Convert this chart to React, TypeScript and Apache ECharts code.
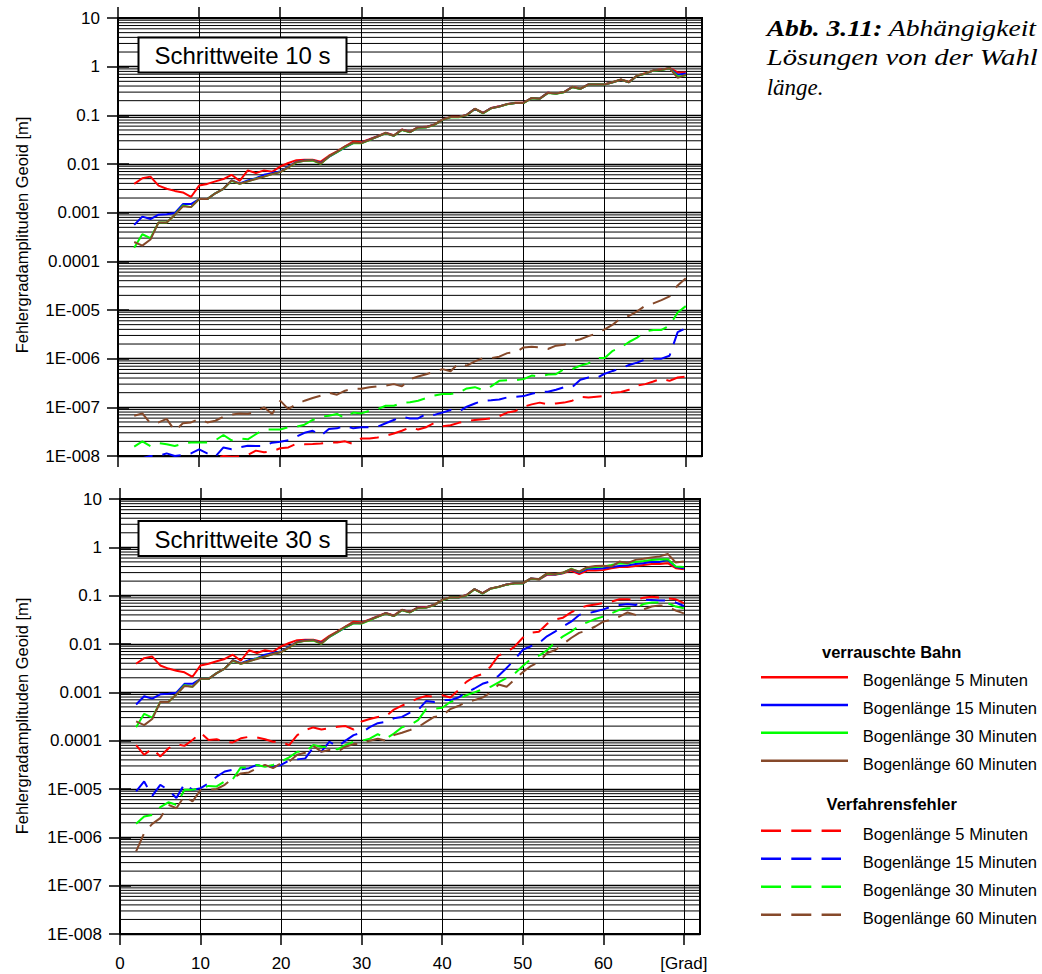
import React, { useEffect, useRef } from "react";
import * as echarts from "echarts";

// ---------- data ----------
const degrees = [
  2, 3, 4, 5, 6, 7, 8, 9, 10, 11, 12, 13, 14, 15, 16, 17, 18, 19, 20, 21,
  22, 23, 24, 25, 26, 27, 28, 29, 30, 31, 32, 33, 34, 35, 36, 37, 38, 39, 40, 41,
  42, 43, 44, 45, 46, 47, 48, 49, 50, 51, 52, 53, 54, 55, 56, 57, 58, 59, 60, 61,
  62, 63, 64, 65, 66, 67, 68, 69, 70,
];

const xTickValues = [0, 10, 20, 30, 40, 50, 60, 70];
const xTickLabels = ["0", "10", "20", "30", "40", "50", "60", "[Grad]"];
// exponent -8 .. 1
const yTickLabels = ["1E-008", "1E-007", "1E-006", "1E-005", "0.0001", "0.001", "0.01", "0.1", "1", "10"];

const seriesNames = ["Bogenlänge 5 Minuten", "Bogenlänge 15 Minuten", "Bogenlänge 30 Minuten", "Bogenlänge 60 Minuten"];
const panelTitles = ["Schrittweite 10 s", "Schrittweite 30 s"];
const legendHeaders = ["verrauschte Bahn", "Verfahrensfehler"];
const yAxisTitle = "Fehlergradamplituden Geoid [m]";
const captionLines = ["Abb. 3.11:", " Abhängigkeit", "Lösungen von der Wahl", "länge."];

// Schrittweite 10 s, verrauschte Bahn (solid)
const red10 = [
  0.0039, 0.0051, 0.0055, 0.0036, 0.0031, 0.0028, 0.0026, 0.0021, 0.0036, 0.0039,
  0.0044, 0.0049, 0.006, 0.0045, 0.0074, 0.0065, 0.0074, 0.0069, 0.0089, 0.0105,
  0.012, 0.0122, 0.0122, 0.0112, 0.0148, 0.0182, 0.023, 0.029, 0.028, 0.0322,
  0.0375, 0.044, 0.039, 0.051, 0.046, 0.057, 0.058, 0.065, 0.082, 0.093,
  0.093, 0.103, 0.137, 0.113, 0.141, 0.153, 0.171, 0.181, 0.182, 0.228,
  0.222, 0.292, 0.282, 0.302, 0.385, 0.355, 0.435, 0.436, 0.437, 0.485,
  0.545, 0.49, 0.66, 0.73, 0.84, 0.87, 0.94, 0.76, 0.76,
];
const blue10 = [
  0.00056, 0.00083, 0.00074, 0.00091, 0.00093, 0.00098, 0.0015, 0.0015, 0.0019, 0.0019,
  0.0025, 0.0031, 0.0046, 0.004, 0.0046, 0.0051, 0.006, 0.0065, 0.007, 0.0088,
  0.011, 0.0118, 0.012, 0.0105, 0.014, 0.0175, 0.022, 0.027, 0.027, 0.0315,
  0.0368, 0.0432, 0.038, 0.0506, 0.0454, 0.0564, 0.057, 0.064, 0.081, 0.092,
  0.092, 0.102, 0.136, 0.111, 0.14, 0.152, 0.17, 0.18, 0.18, 0.226,
  0.22, 0.29, 0.28, 0.3, 0.38, 0.35, 0.43, 0.43, 0.43, 0.48,
  0.54, 0.48, 0.65, 0.72, 0.83, 0.86, 0.93, 0.68, 0.72,
];
const green10 = [
  0.00019, 0.00036, 0.0003, 0.00063, 0.00063, 0.0009, 0.0014, 0.0013, 0.0019, 0.0019,
  0.0025, 0.0031, 0.0045, 0.0039, 0.0044, 0.005, 0.0055, 0.0062, 0.0068, 0.0085,
  0.0108, 0.0116, 0.0118, 0.0101, 0.0141, 0.0176, 0.0222, 0.0268, 0.0266, 0.031,
  0.0364, 0.0428, 0.0378, 0.05, 0.045, 0.0558, 0.0565, 0.0635, 0.0805, 0.0915,
  0.0915, 0.101, 0.135, 0.11, 0.139, 0.151, 0.169, 0.179, 0.179, 0.225,
  0.219, 0.288, 0.279, 0.298, 0.378, 0.348, 0.428, 0.428, 0.428, 0.478,
  0.538, 0.478, 0.648, 0.718, 0.828, 0.858, 0.925, 0.63, 0.66,
];
const brown10 = [
  0.00025, 0.00021, 0.00028, 0.00063, 0.00063, 0.0009, 0.00135, 0.0013, 0.0019, 0.0019,
  0.0025, 0.0031, 0.0046, 0.0039, 0.0044, 0.0049, 0.0055, 0.0062, 0.0068, 0.0085,
  0.011, 0.0117, 0.012, 0.0102, 0.0143, 0.018, 0.023, 0.0275, 0.027, 0.0315,
  0.0368, 0.0432, 0.038, 0.0506, 0.0454, 0.0564, 0.057, 0.064, 0.081, 0.092,
  0.092, 0.102, 0.136, 0.111, 0.14, 0.152, 0.17, 0.18, 0.18, 0.226,
  0.22, 0.29, 0.28, 0.3, 0.38, 0.35, 0.43, 0.43, 0.43, 0.48,
  0.54, 0.48, 0.65, 0.72, 0.83, 0.86, 0.93, 0.59, 0.68,
];

// Schrittweite 10 s, Verfahrensfehler (dashed)
const redDash10 = [
  7.5e-9, 7e-9, 7.2e-9, 6.8e-9, 7.5e-9, 8e-9, 7.8e-9, 8.2e-9, 8.5e-9, 8.8e-9,
  9e-9, 1.0e-8, 9.7e-9, 9.8e-9, 1.05e-8, 1.29e-8, 1.19e-8, 1.25e-8, 1.44e-8, 1.5e-8,
  1.8e-8, 1.74e-8, 1.76e-8, 1.8e-8, 1.88e-8, 1.9e-8, 2.0e-8, 1.76e-8, 2.3e-8, 2.3e-8,
  2.4e-8, 2.6e-8, 2.9e-8, 3.3e-8, 3.9e-8, 3.5e-8, 3.9e-8, 4.8e-8, 4.1e-8, 4.3e-8,
  4.8e-8, 5.2e-8, 5.5e-8, 5.7e-8, 5.9e-8, 6.6e-8, 7.8e-8, 8.4e-8, 1.03e-7, 1.15e-7,
  1.25e-7, 1.15e-7, 1.2e-7, 1.25e-7, 1.37e-7, 1.65e-7, 1.6e-7, 1.65e-7, 1.7e-7, 2.0e-7,
  2.07e-7, 2.3e-7, 2.8e-7, 3.0e-7, 3.4e-7, 3.9e-7, 3.5e-7, 4.1e-7, 4.3e-7,
];
const blueDash10 = [
  8e-9, 9e-9, 1.0e-8, 1.0e-8, 1.13e-8, 1.0e-8, 1.05e-8, 1.13e-8, 1.37e-8, 1.13e-8,
  9.7e-9, 1.5e-8, 1.37e-8, 1.5e-8, 1.63e-8, 1.6e-8, 1.6e-8, 1.88e-8, 1.97e-8, 2.1e-8,
  2.5e-8, 3.0e-8, 3.3e-8, 2.6e-8, 3.6e-8, 3.7e-8, 4.2e-8, 3.7e-8, 3.9e-8, 3.9e-8,
  4.0e-8, 4.7e-8, 5.5e-8, 6.4e-8, 5.9e-8, 5.9e-8, 7.3e-8, 7.0e-8, 7.8e-8, 8.8e-8,
  8.1e-8, 1.03e-7, 1.2e-7, 1.37e-7, 1.4e-7, 1.45e-7, 1.6e-7, 1.65e-7, 1.7e-7, 1.9e-7,
  2.07e-7, 2.1e-7, 2.3e-7, 2.6e-7, 2.6e-7, 3.7e-7, 4.1e-7, 4.0e-7, 4.9e-7, 5.6e-7,
  6.3e-7, 7.4e-7, 8.3e-7, 9.6e-7, 1.0e-6, 1.0e-6, 1.15e-6, 3.5e-6, 4.2e-6,
];
const greenDash10 = [
  1.56e-8, 2.0e-8, 1.6e-8, 1.85e-8, 1.75e-8, 1.6e-8, 1.8e-8, 1.9e-8, 1.9e-8, 1.9e-8,
  2.1e-8, 2.7e-8, 2.1e-8, 2.3e-8, 2.2e-8, 2.8e-8, 3.5e-8, 3.5e-8, 3.5e-8, 3.9e-8,
  4.0e-8, 4.4e-8, 5.5e-8, 6.4e-8, 6.7e-8, 7.3e-8, 6.0e-8, 7.8e-8, 7.5e-8, 8.5e-8,
  9.2e-8, 1.08e-7, 1.08e-7, 1.23e-7, 1.27e-7, 1.37e-7, 1.55e-7, 1.74e-7, 1.88e-7, 1.88e-7,
  2.0e-7, 2.45e-7, 2.6e-7, 2.27e-7, 2.7e-7, 3.5e-7, 3.6e-7, 3.6e-7, 3.8e-7, 4.5e-7,
  4.3e-7, 4.7e-7, 4.8e-7, 6.1e-7, 6.1e-7, 7.2e-7, 8.0e-7, 1.03e-6, 1.03e-6, 1.45e-6,
  1.7e-6, 2.2e-6, 2.7e-6, 3.6e-6, 3.9e-6, 3.9e-6, 4.8e-6, 8.9e-6, 1.2e-5,
];
const brownDash10 = [
  6.7e-8, 7.5e-8, 4.7e-8, 4.9e-8, 5.8e-8, 3.3e-8, 4.7e-8, 4.9e-8, 5.8e-8, 4.9e-8,
  5.3e-8, 6.4e-8, 7.1e-8, 7.5e-8, 7.3e-8, 8.3e-8, 1.0e-7, 7.3e-8, 1.37e-7, 9.2e-8,
  1.17e-7, 1.37e-7, 1.55e-7, 1.74e-7, 2.0e-7, 1.82e-7, 2.2e-7, 2.4e-7, 2.4e-7, 2.58e-7,
  2.7e-7, 2.8e-7, 3.0e-7, 2.7e-7, 3.8e-7, 4.3e-7, 4.8e-7, 5.4e-7, 6.1e-7, 5.5e-7,
  8.0e-7, 7.2e-7, 8.8e-7, 1.03e-6, 1.03e-6, 1.1e-6, 1.3e-6, 1.35e-6, 1.7e-6, 1.76e-6,
  1.7e-6, 1.58e-6, 1.85e-6, 1.93e-6, 2.3e-6, 2.5e-6, 2.9e-6, 3.3e-6, 4.0e-6, 5.0e-6,
  6.8e-6, 7.6e-6, 9.4e-6, 1.23e-5, 1.37e-5, 1.6e-5, 1.9e-5, 3.2e-5, 4.5e-5,
];

// Schrittweite 30 s, verrauschte Bahn (solid)
const red30 = [
  0.0039, 0.0051, 0.0055, 0.0036, 0.0031, 0.0028, 0.0026, 0.0021, 0.0036, 0.0039,
  0.0044, 0.0049, 0.006, 0.0045, 0.0074, 0.0065, 0.0074, 0.0069, 0.0089, 0.0105,
  0.012, 0.0122, 0.0122, 0.0112, 0.0148, 0.0182, 0.023, 0.029, 0.028, 0.0322,
  0.0375, 0.044, 0.039, 0.051, 0.046, 0.057, 0.058, 0.065, 0.082, 0.093,
  0.093, 0.103, 0.137, 0.113, 0.141, 0.153, 0.171, 0.181, 0.182, 0.228,
  0.215, 0.27, 0.27, 0.29, 0.33, 0.28, 0.33, 0.33, 0.34, 0.37,
  0.39, 0.39, 0.41, 0.43, 0.45, 0.45, 0.47, 0.37, 0.35,
];
const blue30 = [
  0.00056, 0.00083, 0.00074, 0.00091, 0.00093, 0.00098, 0.0015, 0.0015, 0.0019, 0.0019,
  0.0025, 0.0031, 0.0046, 0.004, 0.0046, 0.0051, 0.006, 0.0065, 0.007, 0.0088,
  0.011, 0.0118, 0.012, 0.0105, 0.014, 0.0175, 0.022, 0.027, 0.027, 0.0315,
  0.0368, 0.0432, 0.038, 0.0506, 0.0454, 0.0564, 0.057, 0.064, 0.081, 0.092,
  0.092, 0.102, 0.136, 0.111, 0.14, 0.152, 0.17, 0.18, 0.18, 0.226,
  0.218, 0.28, 0.275, 0.295, 0.35, 0.3, 0.36, 0.36, 0.37, 0.39,
  0.41, 0.42, 0.45, 0.47, 0.5, 0.5, 0.55, 0.39, 0.37,
];
const green30 = [
  0.00019, 0.00036, 0.0003, 0.00063, 0.00063, 0.0009, 0.0014, 0.0013, 0.0019, 0.0019,
  0.0025, 0.0031, 0.0045, 0.0039, 0.0044, 0.005, 0.0055, 0.0062, 0.0068, 0.0085,
  0.0108, 0.0116, 0.0118, 0.0101, 0.0141, 0.0176, 0.0222, 0.0268, 0.0266, 0.031,
  0.0364, 0.0428, 0.0378, 0.05, 0.045, 0.0558, 0.0565, 0.0635, 0.0805, 0.0915,
  0.0915, 0.101, 0.135, 0.11, 0.139, 0.151, 0.169, 0.179, 0.179, 0.225,
  0.218, 0.285, 0.278, 0.298, 0.36, 0.31, 0.38, 0.39, 0.4, 0.43,
  0.47, 0.46, 0.5, 0.52, 0.55, 0.56, 0.57, 0.4, 0.39,
];
const brown30 = [
  0.00025, 0.00021, 0.00028, 0.00063, 0.00063, 0.0009, 0.00135, 0.0013, 0.0019, 0.0019,
  0.0025, 0.0031, 0.0046, 0.0039, 0.0044, 0.0049, 0.0055, 0.0062, 0.0068, 0.0085,
  0.011, 0.0117, 0.012, 0.0102, 0.0143, 0.018, 0.023, 0.0275, 0.027, 0.0315,
  0.0368, 0.0432, 0.038, 0.0506, 0.0454, 0.0564, 0.057, 0.064, 0.081, 0.092,
  0.092, 0.102, 0.136, 0.111, 0.14, 0.152, 0.17, 0.18, 0.18, 0.226,
  0.22, 0.29, 0.28, 0.3, 0.353, 0.316, 0.388, 0.41, 0.414, 0.4,
  0.507, 0.47, 0.55, 0.58, 0.62, 0.65, 0.73, 0.484, 0.507,
];

// Schrittweite 30 s, Verfahrensfehler (dashed)
const redDash30 = [
  8.1e-5, 5.1e-5, 6.9e-5, 4.7e-5, 6.9e-5, 8.5e-5, 7.8e-5, 1.03e-4, 1.46e-4, 1.03e-4,
  1.07e-4, 9.5e-5, 9.2e-5, 1.12e-4, 1.2e-4, 1.17e-4, 1.07e-4, 9.5e-5, 9.5e-5, 8.1e-5,
  1.3e-4, 1.66e-4, 1.88e-4, 1.7e-4, 1.8e-4, 1.95e-4, 2.0e-4, 1.7e-4, 2.5e-4, 2.8e-4,
  3.1e-4, 3.2e-4, 4.4e-4, 5.3e-4, 6.3e-4, 7.5e-4, 8.4e-4, 8.1e-4, 8.7e-4, 7.8e-4,
  1.1e-3, 1.65e-3, 2.1e-3, 2.4e-3, 3.4e-3, 5.8e-3, 6.7e-3, 8.9e-3, 1.35e-2, 1.7e-2,
  1.8e-2, 2.6e-2, 3.2e-2, 3.5e-2, 4.5e-2, 5.5e-2, 6.2e-2, 6.6e-2, 7.0e-2, 7.5e-2,
  8.4e-2, 8.4e-2, 8.1e-2, 9.1e-2, 9.5e-2, 9.1e-2, 8.8e-2, 8.4e-2, 7.0e-2,
];
const blueDash30 = [
  8.9e-6, 1.43e-5, 7.2e-6, 1.22e-5, 9.6e-6, 6.5e-6, 1.28e-5, 9.6e-6, 1.04e-5, 1.32e-5,
  1.8e-5, 2.3e-5, 2.5e-5, 2.56e-5, 2.7e-5, 3.15e-5, 2.9e-5, 2.9e-5, 3.15e-5, 3.9e-5,
  4.1e-5, 4.3e-5, 7.3e-5, 5.9e-5, 9.5e-5, 7.5e-5, 1.0e-4, 1.3e-4, 1.46e-4, 1.9e-4,
  2.3e-4, 2.45e-4, 2.9e-4, 3.1e-4, 3.8e-4, 4.3e-4, 6.6e-4, 6.3e-4, 6.9e-4, 6.9e-4,
  7.8e-4, 9.9e-4, 1.2e-3, 1.5e-3, 1.7e-3, 2.2e-3, 3.2e-3, 4.76e-3, 7.6e-3, 9.0e-3,
  1.05e-2, 1.44e-2, 1.8e-2, 2.3e-2, 2.9e-2, 4.0e-2, 4.3e-2, 4.7e-2, 5.2e-2, 5.95e-2,
  6.4e-2, 6.7e-2, 6.4e-2, 8.1e-2, 8.1e-2, 7.9e-2, 7.9e-2, 7.2e-2, 6.1e-2,
];
const greenDash30 = [
  1.9e-6, 2.7e-6, 2.9e-6, 4.2e-6, 5.3e-6, 4.7e-6, 9.6e-6, 9.6e-6, 1.04e-5, 1.16e-5,
  1.13e-5, 1.43e-5, 1.6e-5, 2.8e-5, 2.8e-5, 3.15e-5, 2.9e-5, 3.15e-5, 3.7e-5, 4.5e-5,
  5.9e-5, 5.9e-5, 8.1e-5, 7.5e-5, 7.3e-5, 6.6e-5, 8.1e-5, 9.5e-5, 1.0e-4, 1.1e-4,
  1.37e-4, 1.1e-4, 1.4e-4, 1.9e-4, 2.1e-4, 2.66e-4, 4.5e-4, 4.6e-4, 4.8e-4, 6.3e-4,
  7.2e-4, 8.7e-4, 1.0e-3, 1.15e-3, 1.3e-3, 1.6e-3, 2.0e-3, 2.45e-3, 3.5e-3, 4.9e-3,
  5.75e-3, 7.4e-3, 1.08e-2, 1.44e-2, 1.8e-2, 2.4e-2, 2.8e-2, 3.3e-2, 3.7e-2, 4.3e-2,
  5.1e-2, 5.5e-2, 5.5e-2, 6.7e-2, 7.2e-2, 7.2e-2, 7.0e-2, 5.95e-2, 5.5e-2,
];
const brownDash30 = [
  5.1e-7, 1.23e-6, 1.9e-6, 2.5e-6, 4.7e-6, 4.0e-6, 7.2e-6, 5.5e-6, 9.6e-6, 9.6e-6,
  1.0e-5, 1.22e-5, 1.67e-5, 2.1e-5, 2.2e-5, 2.7e-5, 3.15e-5, 2.7e-5, 3.4e-5, 3.7e-5,
  5.1e-5, 5.6e-5, 7.8e-5, 5.9e-5, 6.4e-5, 5.9e-5, 7.5e-5, 8.5e-5, 8.5e-5, 1.0e-4,
  1.1e-4, 1.0e-4, 1.3e-4, 1.46e-4, 1.66e-4, 1.9e-4, 2.45e-4, 3.1e-4, 3.3e-4, 4.5e-4,
  5.2e-4, 6.3e-4, 6.9e-4, 7.8e-4, 9.9e-4, 1.45e-3, 1.3e-3, 1.85e-3, 2.6e-3, 3.5e-3,
  4.2e-3, 6.5e-3, 7.4e-3, 1.0e-2, 1.33e-2, 1.7e-2, 1.9e-2, 2.3e-2, 2.9e-2, 3.2e-2,
  3.7e-2, 4.5e-2, 4.0e-2, 5.2e-2, 5.95e-2, 6.3e-2, 5.95e-2, 4.9e-2, 4.3e-2,
];

// ---------- styling ----------
const COLORS = ["#ff0000", "#0000ff", "#00ff00", "#86492a"];
const SANS = "'Liberation Sans', Arial, Helvetica, sans-serif";
const SERIF = "'Liberation Serif', 'Times New Roman', serif";
const DASH = [19, 10];
const X_MAX = 72;

const GRIDS = [
  { left: 118, top: 18, width: 584, height: 438 },
  { left: 120, top: 499, width: 580, height: 435 },
];

const panels = [
  { solid: [red10, blue10, green10, brown10], dashed: [redDash10, blueDash10, greenDash10, brownDash10] },
  { solid: [red30, blue30, green30, brown30], dashed: [redDash30, blueDash30, greenDash30, brownDash30] },
];

// minor log grid levels (2..9 per decade)
const minorLevels: number[] = [];
for (let e = -8; e <= 0; e++) {
  for (let m = 2; m <= 9; m++) minorLevels.push(m * Math.pow(10, e));
}

function yLabel(v: number) {
  const e = Math.round(Math.log10(v));
  return yTickLabels[e + 8] ?? "";
}
function xLabel(v: number) {
  const i = xTickValues.indexOf(Math.round(v));
  return i >= 0 ? xTickLabels[i] : "";
}

function buildOption() {
  const xAxis: any[] = [];
  const yAxis: any[] = [];
  const series: any[] = [];

  GRIDS.forEach((_, gi) => {
    const common = {
      type: "value",
      gridIndex: gi,
      min: 0,
      max: X_MAX,
      interval: 10,
      axisLine: { show: true, onZero: false, lineStyle: { color: "#000", width: 2 } },
      axisTick: { show: true, inside: false, length: 11, customValues: xTickValues, lineStyle: { color: "#000", width: 1.5 } },
    };
    xAxis.push({
      ...common,
      position: "bottom",
      axisLabel: {
        show: gi === 1,
        customValues: xTickValues,
        margin: 21,
        color: "#000",
        fontSize: 17,
        fontFamily: SANS,
        formatter: (v: number) => xLabel(v),
      },
      splitLine: { show: true, lineStyle: { color: "#000", width: 1 } },
    });
    xAxis.push({
      ...common,
      position: "top",
      axisLabel: { show: false },
      splitLine: { show: false },
    });
    const ycommon = {
      type: "log",
      logBase: 10,
      gridIndex: gi,
      min: 1e-8,
      max: 10,
      splitNumber: 10,
      axisLine: { show: true, lineStyle: { color: "#000", width: 2 } },
      axisTick: { show: true, inside: false, length: 11, lineStyle: { color: "#000", width: 1.5 } },
    };
    yAxis.push({
      ...ycommon,
      position: "left",
      axisLabel: { show: true, margin: 18, color: "#000", fontSize: 17, fontFamily: SANS, formatter: (v: number) => yLabel(v) },
      splitLine: { show: true, lineStyle: { color: "#000", width: 1.4 } },
    });
    yAxis.push({
      ...ycommon,
      position: "right",
      axisLabel: { show: false },
      splitLine: { show: false },
    });

    const xi = gi * 2;
    const yi = gi * 2;
    // minor log grid lines drawn via the axis scales
    series.push({
      type: "custom",
      name: "minor-grid-" + gi,
      xAxisIndex: xi,
      yAxisIndex: yi,
      silent: true,
      z: 1,
      clip: true,
      encode: { x: 0, y: 1 },
      data: minorLevels.map((v) => [0, v]),
      renderItem: (params: any, api: any) => {
        const v = api.value(1);
        const p1 = api.coord([0, v]);
        const p2 = api.coord([X_MAX, v]);
        return {
          type: "line",
          shape: { x1: p1[0], y1: p1[1], x2: p2[0], y2: p2[1] },
          style: { stroke: "#000", lineWidth: 1 },
        };
      },
    });
    const p = panels[gi];
    p.solid.forEach((arr, k) => {
      series.push({
        type: "line",
        name: seriesNames[k],
        xAxisIndex: xi,
        yAxisIndex: yi,
        z: 3,
        showSymbol: false,
        symbol: "none",
        clip: true,
        lineStyle: { color: COLORS[k], width: 2, type: "solid" },
        data: degrees.map((d, i) => [d, arr[i]]),
      });
    });
    p.dashed.forEach((arr, k) => {
      series.push({
        type: "line",
        name: seriesNames[k] + " (Verfahrensfehler)",
        xAxisIndex: xi,
        yAxisIndex: yi,
        z: 3,
        showSymbol: false,
        symbol: "none",
        clip: true,
        lineStyle: { color: COLORS[k], width: 2, type: DASH },
        data: degrees.map((d, i) => [d, arr[i]]),
      });
    });
  });

  const graphic: any[] = [];
  // panel title boxes
  const boxes = [
    { x: 138.5, y: 37.5 },
    { x: 138.5, y: 521 },
  ];
  panelTitles.forEach((t, i) => {
    graphic.push({
      type: "rect",
      z: 100,
      shape: { x: boxes[i].x, y: boxes[i].y, width: 208, height: 35 },
      style: { fill: "#fff", stroke: "#000", lineWidth: 2 },
    });
    graphic.push({
      type: "text",
      z: 101,
      x: boxes[i].x + 104,
      y: boxes[i].y + 18,
      style: { text: t, fontSize: 24, fontFamily: SANS, fill: "#000", align: "center", verticalAlign: "middle" },
    });
  });
  // y axis titles
  [235, 716].forEach((cy) => {
    graphic.push({
      type: "text",
      z: 100,
      x: 22,
      y: cy,
      rotation: Math.PI / 2,
      style: { text: yAxisTitle, fontSize: 16.5, fontFamily: SANS, fill: "#000", align: "center", verticalAlign: "middle" },
    });
  });
  // caption
  graphic.push({
    type: "text",
    z: 100,
    x: 766.7,
    y: 28,
    scaleX: 1.2,
    style: {
      text: "{b|" + captionLines[0] + "}" + captionLines[1],
      fontSize: 23,
      fontFamily: SERIF,
      fontStyle: "italic",
      fill: "#000",
      align: "left",
      verticalAlign: "middle",
      rich: { b: { fontSize: 23, fontFamily: SERIF, fontStyle: "italic", fontWeight: "bold", fill: "#000" } },
    },
  });
  graphic.push({
    type: "text",
    z: 100,
    x: 766.7,
    y: 57.5,
    scaleX: 1.25,
    style: { text: captionLines[2], fontSize: 23, fontFamily: SERIF, fontStyle: "italic", fill: "#000", align: "left", verticalAlign: "middle" },
  });
  graphic.push({
    type: "text",
    z: 100,
    x: 766.7,
    y: 87,
    scaleX: 1.0,
    style: { text: captionLines[3], fontSize: 23, fontFamily: SERIF, fontStyle: "italic", fill: "#000", align: "left", verticalAlign: "middle" },
  });
  // legend
  const headerY = [651.7, 804];
  const lineYs = [
    [677.3, 705, 732.7, 760.7],
    [830.7, 858.7, 886.7, 914.7],
  ];
  legendHeaders.forEach((h, g) => {
    graphic.push({
      type: "text",
      z: 100,
      x: 891.7,
      y: headerY[g],
      style: { text: h, fontSize: 16.5, fontWeight: "bold", fontFamily: SANS, fill: "#000", align: "center", verticalAlign: "middle" },
    });
    lineYs[g].forEach((ly, k) => {
      graphic.push({
        type: "line",
        z: 100,
        shape: { x1: 761, y1: ly, x2: g === 0 ? 848 : 841, y2: ly },
        style: g === 0 ? { stroke: COLORS[k], lineWidth: 2.5 } : { stroke: COLORS[k], lineWidth: 2.5, lineDash: [20, 10.3] },
      });
      graphic.push({
        type: "text",
        z: 100,
        x: 862.7,
        y: ly + 3,
        style: { text: seriesNames[k], fontSize: 16.5, fontFamily: SANS, fill: "#000", align: "left", verticalAlign: "middle" },
      });
    });
  });

  return {
    animation: false,
    backgroundColor: "#fff",
    grid: GRIDS.map((g) => ({ ...g, show: true, borderColor: "#000", borderWidth: 2, backgroundColor: "#fff", containLabel: false })),
    xAxis,
    yAxis,
    series,
    graphic,
  };
}

export default function App() {
  const ref = useRef<HTMLDivElement>(null);
  useEffect(() => {
    if (!ref.current) return;
    const chart = echarts.init(ref.current, null, { renderer: "svg" });
    chart.setOption(buildOption() as any);
    return () => chart.dispose();
  }, []);
  return (
    <div
      ref={ref}
      style={{ position: "absolute", left: 0, top: 0, width: 1042, height: 974, background: "#fff" }}
    />
  );
}
